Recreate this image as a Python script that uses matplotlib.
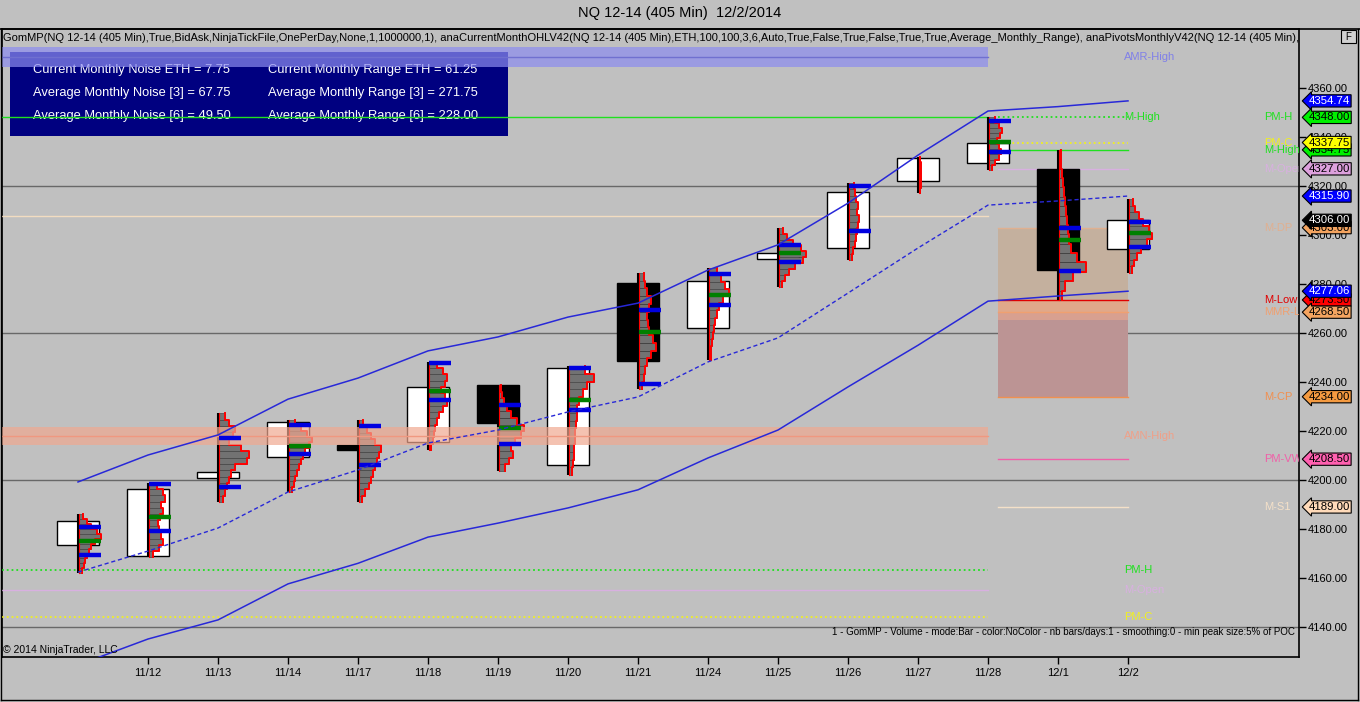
import numpy as np
import matplotlib
matplotlib.use('Agg')
import matplotlib.pyplot as plt
from matplotlib.patches import Rectangle
from matplotlib.lines import Line2D
import matplotlib.transforms as mtrans

plt.rcParams['font.family'] = ['Liberation Sans', 'DejaVu Sans']

# daily bars (405 min), 11/11 .. 12/2
dates = ['11/11', '11/12', '11/13', '11/14', '11/17', '11/18', '11/19', '11/20',
         '11/21', '11/24', '11/25', '11/26', '11/27', '11/28', '12/1', '12/2']
opens = [4173.5, 4169.0, 4201.0, 4209.5, 4214.25, 4215.5, 4238.75, 4206.0,
         4280.5, 4262.0, 4290.25, 4294.75, 4322.0, 4329.5, 4327.0, 4294.25]
highs = [4186.0, 4198.75, 4227.25, 4224.5, 4224.5, 4248.25, 4238.75, 4246.5,
         4284.5, 4286.5, 4303.0, 4321.25, 4331.75, 4348.0, 4334.75, 4314.75]
lows = [4162.0, 4168.5, 4191.0, 4195.0, 4191.0, 4212.25, 4203.75, 4202.0,
        4237.0, 4249.0, 4278.75, 4289.75, 4317.0, 4326.5, 4273.5, 4284.5]
closes = [4183.25, 4196.25, 4203.25, 4223.75, 4212.25, 4238.0, 4223.25, 4245.75,
          4248.5, 4281.25, 4292.75, 4317.5, 4331.5, 4337.75, 4285.75, 4306.0]

# channel
band_upper = [4199.2, 4210.2, 4218.4, 4233.0, 4241.6, 4252.7, 4258.4, 4266.5,
              4272.2, 4285.7, 4296.0, 4313.0, 4332.6, 4350.6, 4352.4, 4354.74]
band_mid = [4162.4, 4171.0, 4180.4, 4195.1, 4204.1, 4215.1, 4220.4, 4227.8,
            4233.9, 4248.2, 4258.0, 4276.3, 4294.7, 4312.2, 4313.9, 4315.9]
band_lower = [4124.5, 4135.1, 4142.9, 4157.6, 4166.0, 4176.7, 4182.4, 4188.6,
              4196.0, 4209.0, 4220.4, 4238.0, 4255.0, 4273.0, 4275.1, 4277.06]

# volume profile per bar, widths (px) from low to high
profile_widths = [
    [3, 5, 6, 8, 10, 12, 16, 22, 18, 12, 8, 4],
    [4, 10, 14, 12, 10, 9, 11, 14, 12, 16, 14, 8],
    [4, 6, 8, 10, 12, 16, 28, 30, 22, 10, 14, 16, 10, 6],
    [3, 5, 6, 8, 10, 12, 14, 16, 20, 23, 18, 12, 6],
    [3, 6, 10, 12, 14, 16, 18, 20, 22, 16, 12, 8, 4],
    [2, 4, 5, 6, 8, 10, 14, 18, 16, 12, 16, 18, 14, 8],
    [6, 10, 14, 12, 16, 22, 25, 18, 12, 8, 5, 3, 2],
    [3, 4, 5, 5, 6, 6, 7, 8, 8, 10, 14, 18, 25, 16],
    [3, 5, 6, 8, 12, 17, 14, 10, 9, 8, 10, 12, 8, 6, 5],
    [2, 2, 3, 4, 5, 6, 8, 10, 14, 20, 16, 12, 8],
    [3, 6, 10, 16, 24, 27, 22, 14, 8, 4],
    [3, 4, 6, 7, 8, 9, 10, 8, 9, 7, 6, 5],
    [1, 2, 2, 2, 2, 2, 1],
    [3, 6, 10, 12, 10, 8, 11, 13, 10, 6],
    [3, 6, 14, 27, 18, 12, 10, 9, 8, 7, 6, 5, 4, 3, 2, 2],
    [3, 5, 8, 12, 18, 23, 20, 14, 10, 6, 4],
]
va_high = [4180.8, 4198.4, 4217.1, 4222.4, 4222.0, 4247.8, 4230.6, 4245.7,
           4269.4, 4284.1, 4295.9, 4320.0, np.nan, 4346.5, 4302.9, 4305.3]
va_low = [4169.4, 4179.2, 4197.1, 4210.6, 4206.1, 4232.7, 4214.7, 4228.6,
          4239.2, 4271.4, 4289.0, 4301.6, np.nan, 4333.9, 4285.3, 4295.1]
poc = [4175.1, 4184.9, np.nan, 4213.9, np.nan, 4236.3, 4221.2, 4232.7,
       4260.4, 4275.5, 4292.7, np.nan, np.nan, 4338.0, 4298.0, 4300.8]

# monthly levels
nov_levels = [  # (price, color, style, label)
    (4348.0, '#20e020', '-', 'M-High'),
    (4307.8, '#f2dcc0', '-', None),
    (4163.3, '#20e020', ':', 'PM-H'),
    (4155.1, '#d8b0e0', '-', 'M-Open'),
    (4144.1, '#f0f020', ':', 'PM-C'),
]
nov_bands = [  # (low, high, color, label, label color)
    (4368.6, 4376.7, '#8c8cf0', 'AMR-High', '#8080e8'),
    (4214.3, 4221.6, '#f0a890', 'AMN-High', '#f0a088'),
]
dec_levels = [
    (4348.0, '#20e020', ':', 'PM-H'),
    (4337.75, '#f0f020', ':', 'PM-C'),
    (4334.75, '#20e020', '-', 'M-High'),
    (4327.0, '#d8b0e0', '-', 'M-Open'),
    (4303.0, '#e0b090', '-', 'M-DP'),
    (4273.5, '#e00000', '-', 'M-Low'),
    (4268.5, '#f0a070', '-', 'MMR-L'),
    (4234.0, '#f09050', '-', 'M-CP'),
    (4208.5, '#f060a8', '-', 'PM-VW'),
    (4189.0, '#f4e0c8', '-', 'M-S1'),
]
dec_zone = [  # (top, bottom, color)
    (4303.0, 4273.5, '#c4b09e'),
    (4273.5, 4268.5, '#e0a88a'),
    (4268.5, 4265.5, '#d8a090'),
    (4265.5, 4234.0, '#bc9494'),
]

tags = [  # (price, fill, text color)
    (4354.74, '#0000ff', 'white'),
    (4348.00, '#00f000', 'black'),
    (4334.75, '#00f000', 'black'),
    (4337.75, '#ffff00', 'black'),
    (4327.00, '#dda0dd', 'black'),
    (4315.90, '#0000ff', 'white'),
    (4303.00, '#f4a460', 'black'),
    (4306.00, '#000000', 'white'),
    (4273.50, '#ff0000', 'black'),
    (4277.06, '#0000ff', 'white'),
    (4268.50, '#f4a460', 'black'),
    (4234.00, '#f49a40', 'black'),
    (4208.50, '#ff60b0', 'black'),
    (4189.00, '#ffdab9', 'black'),
]

noise_text = [['Current Monthly Noise ETH = 7.75', 'Current Monthly Range ETH = 61.25'],
              ['Average Monthly Noise [3] = 67.75', 'Average Monthly Range [3] = 271.75'],
              ['Average Monthly Noise [6] = 49.50', 'Average Monthly Range [6] = 228.00']]

header = ('GomMP(NQ 12-14 (405 Min),True,BidAsk,NinjaTickFile,OnePerDay,None,1,1000000,1), '
          'anaCurrentMonthOHLV42(NQ 12-14 (405 Min),ETH,100,100,3,6,Auto,True,False,True,False,'
          'True,True,Average_Monthly_Range), anaPivotsMonthlyV42(NQ 12-14 (405 Min),ETH)')
footer = ('1 - GomMP - Volume - mode:Bar - color:NoColor - nb bars/days:1 - smoothing:0 - '
          'min peak size:5% of POC')

W, H = 1360, 702
BG = '#c0c0c0'
PX = 70.0  # pixels per bar


def fx(x):
    return x / W


def fy(y):
    return 1 - y / H


fig = plt.figure(figsize=(W / 100, H / 100), dpi=100, facecolor=BG)
ax = fig.add_axes([fx(2), fy(657), fx(1299) - fx(2), fy(29) - fy(657)])
ax.set_facecolor(BG)
ax.set_xlim((2 - 78) / PX, (1299 - 78) / PX)
ax.set_ylim(4127.76, 4384.08)

x = np.arange(len(dates))
nov_end = 13
dec_start, dec_end = 13.14, 15

for p in [4140, 4200, 4260, 4320]:
    ax.axhline(p, color='#686868', lw=1, zorder=1)

# november levels
xl = ax.get_xlim()[0]
for lo, hi, c, lab, lc in nov_bands:
    ax.fill_between([xl, nov_end], lo, hi, color=c, alpha=0.7, lw=0, zorder=6)
    ax.plot([xl, nov_end], [(lo + hi) / 2] * 2, color='#7070d0' if 'AMR' in lab else '#f09880',
            lw=1, zorder=6)
    ax.text(14.94, (lo + hi) / 2, lab, color=lc, fontsize=8, va='center', zorder=6)
for p, c, ls, lab in nov_levels:
    ax.plot([xl, nov_end], [p, p], color=c, ls=ls, lw=1.3 if ls == ':' else 1, zorder=3)
    if lab:
        ax.text(14.94, p, lab, color=c, fontsize=8, va='center', zorder=6)

# december zone & levels
for top, bot, c in dec_zone:
    ax.fill_between([dec_start, dec_end], bot, top, color=c, lw=0, zorder=1.5)
for p, c, ls, lab in dec_levels:
    ax.plot([dec_start, dec_end], [p, p], color=c, ls=ls, lw=1.3 if ls == ':' else 1, zorder=2)
    ax.text(16.95, p, lab, color=c, fontsize=8, va='center', zorder=6, clip_on=True)

# candles
body_lo = np.minimum(opens, closes)
body_hi = np.maximum(opens, closes)
body_col = ['white' if c >= o else 'black' for o, c in zip(opens, closes)]
ax.bar(x, body_hi - body_lo, bottom=body_lo, width=0.6, color=body_col,
       edgecolor='black', lw=1, zorder=3)
ax.vlines(x, lows, highs, color='black', lw=1.5, zorder=4)

# volume profiles
for i, w in enumerate(profile_widths):
    w = np.array(w, float) / PX
    n = len(w)
    edges = np.linspace(lows[i], highs[i], n + 1)
    hgt = edges[1] - edges[0]
    ax.barh(edges[:-1] + hgt / 2, w, height=hgt, left=x[i] + 0.02, color='#727272',
            edgecolor='#383838', lw=0.4, zorder=5)
    xs = np.repeat(x[i] + 0.02 + w, 2)
    ys = np.column_stack([edges[:-1], edges[1:]]).ravel()
    ax.plot(xs, ys, color='#ff0000', lw=1.4, zorder=5.5)
    ax.plot([x[i] + 0.02, x[i] + 0.02], [lows[i], highs[i]], color='#ff0000', lw=0.8, zorder=5.5)

for vals, c in [(va_high, '#0000e0'), (va_low, '#0000e0'), (poc, '#008000')]:
    ax.hlines(vals, x + 0.02, x + 0.33, color=c, lw=3.2, zorder=6)

# channel lines
ax.plot(x, band_upper, color='#2828d8', lw=1.1, zorder=7)
ax.plot(x, band_mid, color='#2828d8', lw=1.0, ls=(0, (3, 2)), zorder=7)
ax.plot(x, band_lower, color='#2828d8', lw=1.1, zorder=7)

# axes styling
ax.yaxis.tick_right()
ax.set_yticks(np.arange(4140, 4361, 20))
ax.set_yticklabels(['%.2f' % v for v in np.arange(4140, 4361, 20)])
ax.set_xticks(x[1:])
ax.set_xticklabels(dates[1:])
ax.tick_params(axis='y', direction='out', length=5, width=1, labelsize=8, pad=1)
ax.tick_params(axis='x', direction='out', length=5, width=1, labelsize=8, pad=3)
for s in ax.spines.values():
    s.set_color('black')
    s.set_linewidth(1.2)

# price tags
tr = mtrans.blended_transform_factory(ax.transAxes, ax.transData)
for p, fc, tc in tags:
    ax.text(1.0075, p, '%.2f' % p, transform=tr, fontsize=8.2, color=tc, va='center',
            ha='left', zorder=20, clip_on=False,
            bbox=dict(boxstyle='larrow,pad=0.1', fc=fc, ec='black', lw=0.8))

# info box
ax.add_patch(Rectangle((fx(10), fy(136)), fx(508) - fx(10), fy(52) - fy(136),
                       transform=fig.transFigure, fc='#000080', ec='none', zorder=2.5,
                       clip_on=False))
for r, row in enumerate(noise_text):
    for c, t in enumerate(row):
        ax.text(fx([33, 268][c]), fy(70 + 23 * r), t, transform=fig.transFigure,
                color='white', fontsize=9.3, va='center', zorder=2.6)

ax.text(fx(3), fy(38), header, transform=fig.transFigure, fontsize=8.0, va='center',
        color='black', zorder=8, clip_on=True)
ax.text(fx(1295), fy(632), footer, transform=fig.transFigure, fontsize=7, va='center',
        ha='right', color='black', zorder=8)
ax.text(fx(3), fy(650), '\u00a9 2014 NinjaTrader, LLC', transform=fig.transFigure,
        fontsize=7.5, va='center', color='black', zorder=8)

fig.text(0.5, fy(13), 'NQ 12-14 (405 Min)  12/2/2014', ha='center', va='center', fontsize=10.5)

# frame
fig.add_artist(Line2D([0, 1], [fy(29), fy(29)], color='black', lw=1.2))
fig.add_artist(Line2D([fx(1), fx(1)], [fy(700), fy(29)], color='black', lw=1))
fig.add_artist(Line2D([fx(1358), fx(1358)], [fy(700), fy(29)], color='black', lw=1))
fig.add_artist(Line2D([fx(1), fx(1358)], [fy(700), fy(700)], color='black', lw=1))
fig.add_artist(Rectangle((fx(1341), fy(43)), fx(15), 13 / H, transform=fig.transFigure,
                         fc='#d0d0d0', ec='black', lw=0.8))
fig.text(fx(1348.5), fy(36.5), 'F', ha='center', va='center', fontsize=7)

fig.savefig('out.png', dpi=100, facecolor=BG)
